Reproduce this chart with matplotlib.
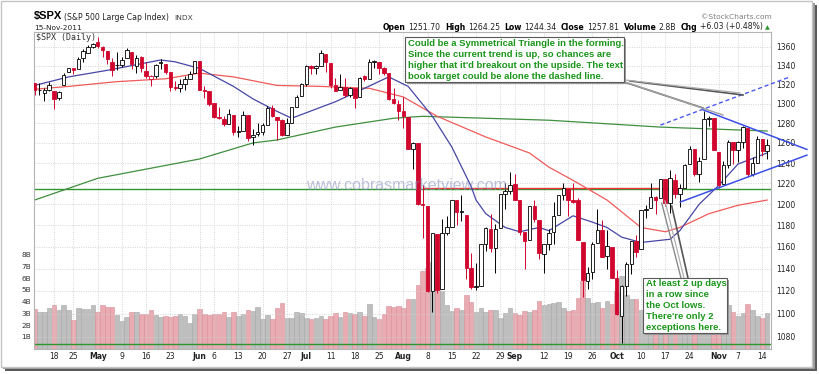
import numpy as np
import matplotlib
matplotlib.use('Agg')
import matplotlib.pyplot as plt
from matplotlib.patches import Rectangle
from matplotlib.lines import Line2D
from matplotlib.ticker import FixedLocator, FixedFormatter, NullLocator

plt.rcParams['font.family'] = ['DejaVu Sans']

# ---- daily data, 12-Apr-2011 .. 15-Nov-2011 (152 trading days) ----
prev_close0 = 1324.46
opens = [1321.96,1314.03,1311.13,1314.54,1313.35,1305.99,1319.12,1333.23,1337.14,1336.75,1348.43,1353.86,1360.14,
         1365.21,1359.76,1355.90,1344.16,1340.24,1340.20,1348.34,1354.51,1339.39,1348.69,1334.77,1326.10,1328.54,1342.40,1342.00,1333.07,1317.70,1316.36,1320.64,1325.69,1331.72,
         1345.20,1314.55,1312.94,1300.26,1286.31,1284.63,1279.63,1288.26,1271.31,1272.22,1287.87,1265.53,1268.58,1271.50,1278.40,1295.48,1286.60,1283.04,1268.44,1280.21,1296.85,1307.64,
         1320.64,1339.59,1337.56,1339.62,1352.39,1343.31,1319.61,1314.45,1317.74,1308.87,1315.94,1307.07,1328.66,1325.65,1343.80,1344.32,1337.39,1331.91,1304.84,1300.12,
         1292.59,1286.56,1254.25,1260.23,1200.28,1198.48,1120.23,1171.77,1121.30,1172.87,1178.86,1204.22,1192.89,1189.62,1140.47,1123.55,1124.36,1162.16,1176.69,1158.85,1177.91,1209.76,1213.00,
         1219.12,1203.90,1173.97,1165.85,1197.98,1185.37,1153.50,1162.59,1173.32,1189.44,1209.21,1214.99,1204.50,1203.63,1164.55,1128.82,1136.91,1163.32,1175.39,1151.74,1159.93,
         1131.21,1097.42,1124.03,1144.11,1165.03,1158.15,1194.60,1196.19,1206.96,1205.65,1224.47,1200.75,1223.46,1209.92,1215.39,1238.72,1254.19,1229.17,1243.97,1284.39,1284.96,
         1251.00,1219.62,1238.25,1260.82,1253.21,1261.12,1275.18,1229.59,1240.12,1263.85,1251.70]
highs = [1321.96,1321.35,1316.79,1322.88,1313.35,1312.70,1332.66,1337.49,1337.55,1349.55,1357.49,1361.71,1364.56,
         1370.58,1360.84,1355.90,1348.00,1354.36,1349.44,1359.44,1354.51,1351.05,1350.47,1343.33,1330.42,1341.82,1346.82,1342.00,1333.07,1323.72,1325.86,1328.51,1334.62,1345.20,
         1345.20,1318.03,1312.94,1300.26,1296.22,1287.04,1294.54,1288.26,1277.04,1292.50,1287.87,1274.11,1279.82,1280.42,1297.62,1298.61,1286.60,1283.93,1284.91,1296.80,1309.21,1321.97,
         1341.01,1340.89,1340.94,1356.48,1352.39,1343.31,1327.17,1331.48,1326.88,1317.70,1315.94,1328.14,1330.43,1347.00,1346.10,1344.32,1338.51,1331.91,1316.32,1304.16,
         1307.38,1286.56,1261.20,1260.23,1218.11,1198.48,1172.88,1171.77,1186.29,1189.04,1204.49,1204.22,1208.47,1189.62,1154.54,1145.49,1162.35,1178.56,1190.68,1181.23,1210.28,1220.10,1230.71,
         1229.29,1203.90,1173.97,1198.62,1204.40,1185.37,1162.52,1176.41,1202.38,1209.11,1220.06,1214.99,1220.39,1206.30,1164.55,1141.72,1164.19,1195.86,1184.71,1175.87,1159.93,
         1138.99,1125.12,1146.07,1165.55,1171.40,1194.91,1199.24,1220.25,1207.46,1224.61,1224.47,1233.10,1229.64,1219.36,1239.03,1256.55,1254.19,1246.28,1292.66,1287.08,1284.96,
         1251.00,1242.48,1263.21,1260.82,1261.70,1277.55,1275.18,1246.22,1266.98,1263.85,1264.25]
lows = [1309.51,1309.19,1302.42,1313.68,1294.70,1303.97,1319.12,1332.82,1331.47,1336.75,1344.25,1353.60,1358.69,
        1358.59,1349.52,1341.50,1329.17,1335.58,1338.64,1348.34,1336.36,1332.03,1333.36,1327.32,1318.51,1326.59,1336.03,1330.67,1312.88,1313.87,1311.80,1314.41,1325.69,1331.72,
        1313.71,1305.61,1297.90,1284.89,1284.74,1277.42,1279.63,1268.28,1265.64,1272.22,1261.90,1258.07,1267.40,1267.56,1278.40,1286.79,1262.87,1267.24,1267.53,1280.21,1296.85,1307.64,
        1318.18,1330.92,1330.92,1339.62,1333.71,1316.42,1313.33,1314.45,1306.51,1307.35,1295.92,1307.07,1323.65,1325.65,1336.95,1331.09,1329.59,1303.49,1299.16,1282.86,
        1274.73,1254.03,1234.56,1199.54,1168.09,1119.28,1101.54,1118.01,1121.30,1170.74,1178.86,1180.53,1184.36,1131.03,1122.05,1121.09,1124.36,1156.30,1155.47,1135.91,1177.91,1195.77,1209.35,
        1203.85,1170.56,1140.13,1165.85,1183.34,1148.37,1136.07,1157.44,1162.73,1189.44,1204.46,1188.36,1201.29,1166.21,1114.22,1121.36,1131.07,1163.32,1150.40,1139.93,1131.34,
        1098.92,1074.77,1115.68,1134.95,1150.26,1158.15,1187.30,1196.19,1190.58,1205.65,1198.55,1191.48,1206.31,1197.34,1215.39,1238.72,1226.79,1221.06,1243.97,1277.01,1253.16,
        1215.42,1219.62,1234.81,1238.92,1240.75,1254.99,1226.64,1227.70,1240.12,1246.68,1244.34]
closes = [1314.16,1314.41,1314.52,1319.68,1305.14,1312.62,1330.36,1337.38,1335.25,1347.24,1355.66,1360.48,1363.61,
          1361.22,1356.62,1347.32,1335.10,1340.20,1346.29,1357.16,1342.08,1348.65,1337.77,1329.47,1328.98,1340.68,1343.60,1333.27,1317.37,1316.28,1320.47,1325.69,1331.10,1345.20,
          1314.55,1312.94,1300.16,1286.17,1284.94,1279.56,1289.00,1270.98,1271.83,1287.87,1265.42,1267.64,1271.50,1278.36,1295.52,1287.14,1283.50,1268.45,1280.10,1296.67,1307.41,1320.64,
          1339.67,1337.88,1339.22,1353.22,1343.80,1319.49,1313.64,1317.72,1308.87,1316.14,1305.44,1326.73,1325.84,1343.80,1345.02,1337.43,1331.94,1304.89,1300.67,1292.28,
          1286.94,1254.05,1260.34,1200.07,1199.38,1119.46,1172.53,1120.76,1172.64,1178.81,1204.49,1192.76,1193.89,1140.65,1123.53,1123.82,1162.35,1177.60,1159.27,1176.80,1210.08,1212.92,1218.89,
          1204.42,1173.97,1165.24,1198.62,1185.90,1154.23,1162.27,1172.87,1188.68,1209.11,1216.01,1204.09,1202.09,1166.76,1129.56,1136.43,1162.95,1175.38,1151.06,1160.40,1131.42,
          1099.23,1123.95,1144.03,1164.97,1155.46,1194.89,1195.54,1207.25,1203.66,1224.58,1200.86,1225.38,1209.88,1215.39,1238.25,1254.19,1229.05,1242.00,1284.59,1285.09,1253.30,
          1218.28,1237.90,1261.15,1253.23,1261.12,1275.92,1229.10,1239.70,1263.85,1251.78,1257.81]
volume_b = [3.39,3.08,3.16,3.42,3.76,3.30,3.70,3.25,2.45,3.50,3.36,3.36,3.76,
            3.16,3.70,3.56,3.56,2.88,2.34,2.71,3.16,3.08,2.91,2.91,3.25,2.88,2.68,2.77,2.68,2.74,2.96,2.77,2.22,2.96,
            3.36,2.99,2.85,2.91,2.96,3.13,2.68,3.08,2.82,2.91,3.30,3.22,3.53,2.51,2.88,2.54,3.48,3.90,2.62,2.60,3.08,3.02,
            2.60,2.48,2.57,2.79,2.51,2.74,3.02,2.68,3.08,3.05,2.96,3.10,2.80,3.84,2.68,2.54,2.91,3.64,3.53,3.59,
            3.50,4.19,4.20,5.40,6.60,6.90,7.40,6.10,4.90,3.70,3.20,3.50,3.30,4.60,4.00,3.10,3.50,3.10,3.30,3.30,2.60,3.00,3.50,
            3.00,2.90,3.20,3.10,3.30,4.10,3.70,3.80,3.90,4.00,3.50,3.20,3.30,4.30,5.80,4.30,3.90,4.00,3.50,4.10,3.80,
            4.90,6.20,4.60,4.20,4.20,3.30,2.80,3.60,3.30,3.40,3.30,3.90,3.60,3.70,4.10,3.20,3.40,3.60,4.90,3.10,3.50,
            4.40,3.40,3.70,3.10,2.80,3.00,3.80,3.30,2.80,2.60,3.00]

# moving averages (day index -> value)
ma20_idx = [0, 7, 15, 26, 29, 34, 41, 45, 50, 53, 62, 68, 73, 77, 82, 86, 90, 91, 93, 97, 100, 104, 106, 111, 115, 118, 121, 125, 131, 133, 137, 141, 145, 151]
ma20_val = [1319, 1328, 1335, 1346, 1344, 1337, 1318, 1305, 1292, 1285, 1302, 1316, 1328, 1318, 1287, 1256, 1217, 1204, 1191, 1178, 1174, 1178, 1175, 1189, 1183, 1178, 1169, 1164, 1167, 1175, 1200, 1218, 1239, 1250]
ma50_idx = [0, 7, 17, 27, 34, 41, 50, 59, 69, 76, 83, 93, 102, 106, 111, 118, 125, 130, 133, 139, 145, 151]
ma50_val = [1315, 1318, 1323, 1326, 1332, 1328, 1319, 1318, 1316, 1307, 1287, 1266, 1250, 1236, 1223, 1204, 1178, 1174, 1178, 1191, 1199, 1204]
ma200_idx = [0, 13, 34, 45, 50, 62, 74, 80, 93, 106, 129, 151]
ma200_val = [1204, 1225, 1244, 1260, 1263, 1276, 1285, 1287, 1285, 1283, 1276, 1272]

# drawn lines
support_level = 1215.0
red_level = 1215.6
red_level_span = [80, 133]
oct_low_level = 1073.5
tri_upper_x, tri_upper_y = [137.9, 159.2], [1293.4, 1253.5]
tri_lower_x, tri_lower_y = [133.1, 159.2], [1202.1, 1247.8]
target_x, target_y = [129.0, 155.7], [1278.0, 1328.0]

price_ticks = list(range(1080, 1361, 20))
vol_ticks = [1, 2, 3, 4, 5, 6, 7, 8]
date_pos = [4, 8, 13, 18, 23, 28, 34, 37, 42, 47, 52, 56, 61, 66, 71, 76, 81, 86, 91, 96, 99, 105, 110, 115, 120, 125, 130, 135, 141, 145, 150]
date_lab = ['18', '25', 'May', '9', '16', '23', 'Jun', '6', '13', '20', '27', 'Jul', '11', '18', '25', 'Aug', '8', '15', '22', '29',
            'Sep', '12', '19', '26', 'Oct', '10', '17', '24', 'Nov', '7', '14']
months = {'May', 'Jun', 'Jul', 'Aug', 'Sep', 'Oct', 'Nov'}

hdr_labels = ['Open', 'High', 'Low', 'Close', 'Volume', 'Chg']
hdr_values = ['1251.70', '1264.25', '1244.34', '1257.81', '2.8B', '+6.03 (+0.48%)']

W, H = 820, 374
RED = '#D1062E'


def fx(x):
    return x / W


def fy(y):
    return 1 - y / H


fig = plt.figure(figsize=(W / 100, H / 100), dpi=100)
fig.patch.set_facecolor('white')

# frame with drop shadow
fig.add_artist(Rectangle((fx(5), fy(371)), fx(812), 366 / H, transform=fig.transFigure,
                         facecolor='#5a5a5a', edgecolor='none', zorder=-5))
fig.add_artist(Rectangle((fx(3), fy(369)), fx(812), 366 / H, transform=fig.transFigure,
                         facecolor='#9a9a9a', edgecolor='none', zorder=-4))
fig.add_artist(Rectangle((fx(0.5), fy(367)), fx(812), 366.5 / H, transform=fig.transFigure,
                         facecolor='white', edgecolor='#c4c4c4', lw=1, zorder=-3))

rect = [fx(34.3), fy(348.5), (771 - 34.3) / W, (348.5 - 32.3) / H]
x = np.arange(len(closes))
xlim = (-0.06, 151.8)

# volume layer
axv = fig.add_axes(rect, zorder=1)
prev = [prev_close0] + closes[:-1]
down = [c < p for c, p in zip(closes, prev)]
vfill = ['#E9AAB2' if d else '#BEBEBE' for d in down]
vedge = ['#D88F99' if d else '#A6A6A6' for d in down]
axv.bar(x, volume_b, width=0.94, color=vfill, edgecolor=vedge, lw=0.4)
axv.set_xlim(*xlim)
axv.set_ylim(0, 316.2 / 11.7)
axv.set_yticks(vol_ticks)
axv.set_yticklabels([f'{v}B' for v in vol_ticks])
axv.tick_params(axis='y', length=0, pad=2.4, labelsize=5.3, labelcolor='#333333')
axv.set_xticks([])
for s in axv.spines.values():
    s.set_visible(False)

# price layer
ax = fig.add_axes(rect, zorder=2)
ax.patch.set_visible(False)
ax.set_yscale('log')
ax.set_xlim(*xlim)
ax.set_ylim(1069.8, 1376.0)
ax.yaxis.set_major_locator(FixedLocator(price_ticks))
ax.yaxis.set_major_formatter(FixedFormatter([str(p) for p in price_ticks]))
ax.yaxis.set_minor_locator(NullLocator())
ax.yaxis.tick_right()
ax.set_xticks(date_pos)
ax.set_xticklabels(date_lab)
for lab in ax.get_xticklabels():
    if lab.get_text() in months:
        lab.set_fontweight('bold')
ax.tick_params(axis='both', length=0, labelsize=5.5, labelcolor='#222222')
ax.tick_params(axis='x', pad=2.5)
ax.tick_params(axis='y', pad=3.4)
ax.grid(True, color='#cfcfcf', linestyle=(0, (1.2, 1.6)), lw=0.6)
ax.set_axisbelow(True)
for s in ax.spines.values():
    s.set_color('#b4b4b4')
    s.set_linewidth(0.8)

# horizontal lines
ax.axhline(support_level, color='#2E962E', lw=1.0, zorder=2)
ax.axhline(oct_low_level, color='#2E962E', lw=1.0, zorder=2)
ax.hlines(red_level, red_level_span[0], red_level_span[1], color='#EE3434', lw=1.0, zorder=2.1)

# moving averages
ax.plot(ma200_idx, ma200_val, color='#3F8F3F', lw=0.9, zorder=2.2)
ax.plot(ma50_idx, ma50_val, color='#F05A5A', lw=0.9, zorder=2.2)
ax.plot(ma20_idx, ma20_val, color='#4646A6', lw=0.9, zorder=2.3)

# candles
edge = [RED if d else 'black' for d in down]
face = [RED if c < o else 'white' for o, c in zip(opens, closes)]
body_lo = [min(o, c) for o, c in zip(opens, closes)]
body_h = [max(abs(c - o), 0.4) for o, c in zip(opens, closes)]
ax.vlines(x, lows, highs, colors=edge, lw=0.7, zorder=3)
ax.bar(x, body_h, bottom=body_lo, width=0.72, color=face, edgecolor=edge, lw=0.6, zorder=4)

# triangle trend lines
ax.plot(tri_upper_x, tri_upper_y, color='#3D4FE6', lw=1.1, clip_on=False, zorder=5)
ax.plot(tri_lower_x, tri_lower_y, color='#3D4FE6', lw=1.1, clip_on=False, zorder=5)
ax.plot(target_x, target_y, color='#4A5BF0', lw=1.0, ls=(0, (3, 2)), clip_on=False, zorder=5)

# header
fig.text(fx(34), fy(19.5), '$SPX', fontsize=8, fontweight='bold', family='Liberation Sans', va='baseline')
fig.text(fx(64), fy(19.5), '(S&P 500 Large Cap Index)', fontsize=5.6, va='baseline', color='#222222')
fig.text(fx(174), fy(19.5), 'INDX', fontsize=5.4, va='baseline', color='#444444')
fig.text(fx(34), fy(29.5), '15-Nov-2011', fontsize=5.3, va='baseline', color='#222222')
fig.text(fx(772), fy(19), '\u00a9StockCharts.com', fontsize=5.4, va='baseline', ha='right', color='#808080')
fig.text(fx(36.5), fy(40.5), '$SPX (Daily)', fontsize=6, family='DejaVu Sans Mono', va='baseline', color='#333333')

renderer = fig.canvas.get_renderer()
xpos = 383.0
for lab, val in zip(hdr_labels, hdr_values):
    t = fig.text(fx(xpos), fy(29.5), lab, fontsize=5.6, fontweight='bold', va='baseline')
    xpos += t.get_window_extent(renderer).width + 2.5
    t = fig.text(fx(xpos), fy(29.5), val, fontsize=5.6, va='baseline', color='#222222')
    xpos += t.get_window_extent(renderer).width + 4.5
fig.text(fx(xpos - 2), fy(29.5), '\u25b2', fontsize=4.5, va='baseline', color='#2E962E')

# watermark
fig.text(fx(406), fy(186), 'www.cobrasmarketview.com', fontsize=11.5, family='Liberation Sans',
         ha='center', va='center', color='#8D97C2', alpha=0.6, zorder=6)

# callout pointers
pointers = [((618, 80), (703, 108), '#6a6a6a', 1.2), ((622, 81), (723, 115), '#a0a0a0', 1.0),
            ((630, 81), (743, 95), '#555555', 1.2), ((625, 80), (740, 93), '#aaaaaa', 0.9),
            ((681, 278), (661.7, 203), '#8a8a8a', 1.0), ((688, 278), (671.7, 206), '#555555', 1.2),
            ((684, 278), (665, 201), '#b0b0b0', 0.9)]
for (x0, y0), (x1, y1), col, lw in pointers:
    fig.add_artist(Line2D([fx(x0), fx(x1)], [fy(y0), fy(y1)], transform=fig.transFigure,
                          color=col, lw=lw, zorder=7))


def callout(left, top, right, bottom, lines, baselines):
    fig.add_artist(Rectangle((fx(left + 2), fy(bottom + 2)), (right - left) / W, (bottom - top) / H,
                             transform=fig.transFigure, facecolor='#9a9a9a', edgecolor='none', zorder=8))
    fig.add_artist(Rectangle((fx(left), fy(bottom)), (right - left) / W, (bottom - top) / H,
                             transform=fig.transFigure, facecolor='white', edgecolor='#5a5a5a', lw=0.8, zorder=9))
    for line, b in zip(lines, baselines):
        fig.text(fx(left + 3), fy(b), line, fontsize=6.8, fontweight='bold', family='Liberation Sans',
                 color='#1A961A', va='baseline', zorder=10)


callout(405, 37, 624, 81.5,
        ['Could be a Symmetrical Triangle in the forming.',
         'Since the current trend is up, so chances are',
         "higher that it'd breakout on the upside. The text",
         'book target could be alone the dashed line.'],
        [45.8, 56.8, 67.8, 78.6])
callout(643, 277.7, 727, 333.3,
        ['At least 2 up days', 'in a row since', 'the Oct lows.', "There're only 2", 'exceptions here.'],
        [285.5, 296.8, 308.1, 319.4, 330.5])

fig.savefig('out.png', dpi=100)
